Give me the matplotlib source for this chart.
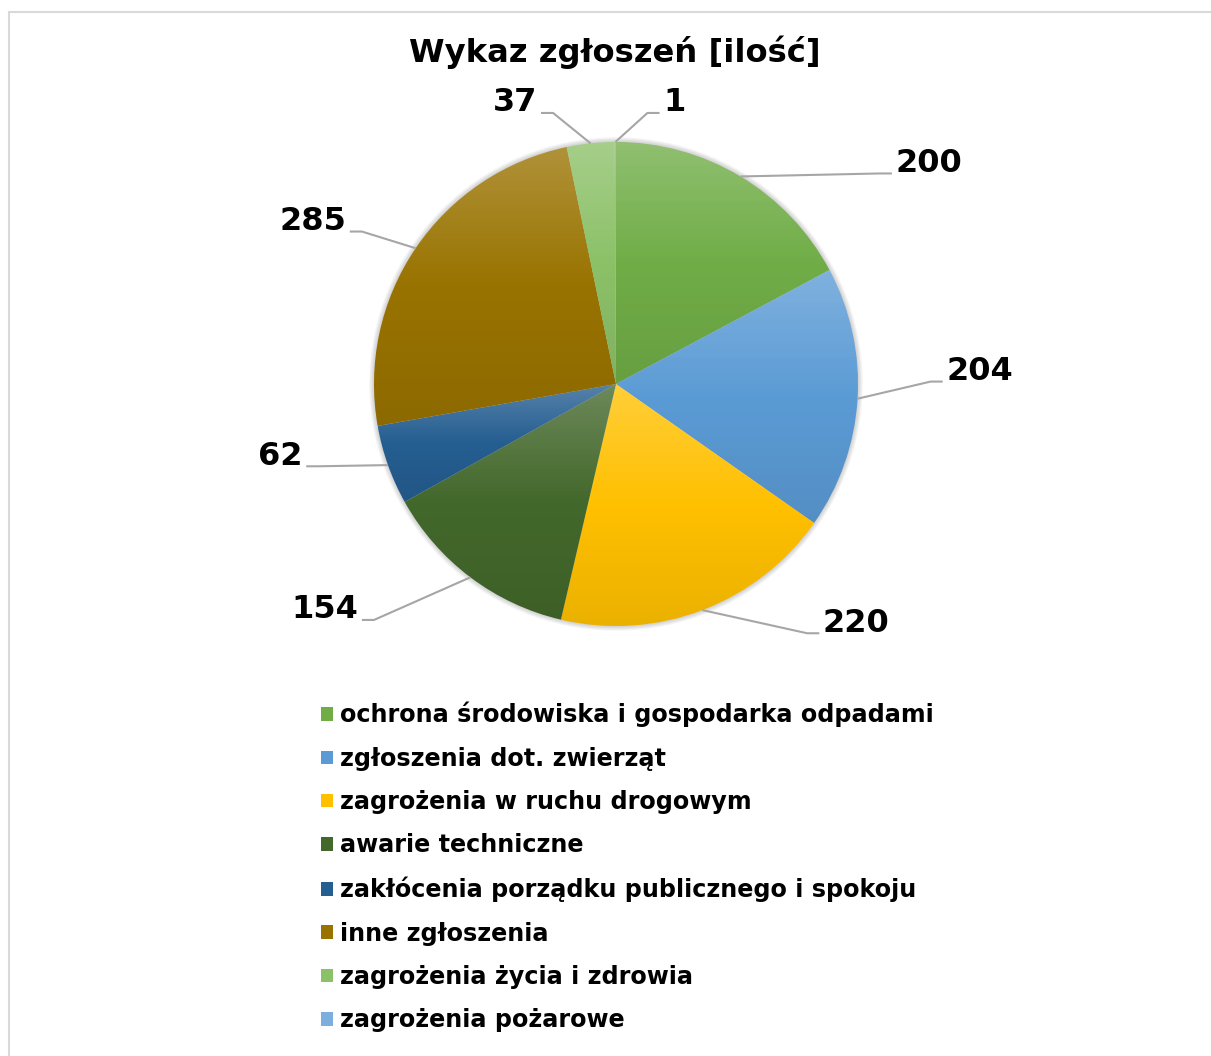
import numpy as np
import matplotlib.pyplot as plt
from matplotlib.colors import to_rgb
from matplotlib.patches import Rectangle, Circle, Patch

# data
categories = ['ochrona środowiska i gospodarka odpadami',
              'zgłoszenia dot. zwierząt',
              'zagrożenia w ruchu drogowym',
              'awarie techniczne',
              'zakłócenia porządku publicznego i spokoju',
              'inne zgłoszenia',
              'zagrożenia życia i zdrowia',
              'zagrożenia pożarowe']
values = [200, 204, 220, 154, 62, 285, 37, 1]
colors = ['#70AD47', '#5B9BD5', '#FFC000', '#43682B',
          '#255E91', '#997300', '#8CC168', '#7CAFDD']
title = 'Wykaz zgłoszeń [ilość]'

# where the leader lines bend (data units, pie radius = 1)
label_elbows = [(1.09, 0.87), (1.30, 0.01), (0.79, -1.03), (-1.00, -0.975),
                (-1.23, -0.34), (-1.05, 0.63), (-0.26, 1.12), (0.13, 1.12)]

W, H = 1211, 1056
cx, cy, R = 616, 384, 242  # pie centre / radius in pixels

plt.rcParams['font.family'] = ['DejaVu Sans']
fig = plt.figure(figsize=(W / 100, H / 100), dpi=100)
ax = fig.add_axes([0, 0, 1, 1])

# chart border (only top/left visible)
fig.patches.append(Rectangle((9 / W, 1 - 1070 / H), 1.2, (1070 - 12) / H,
                             transform=fig.transFigure, fill=False,
                             edgecolor='#D9D9D9', linewidth=1.5))

# soft shadow around the pie
for k in range(6):
    ax.add_patch(Circle((0, 0), 1.0 + 0.004 * k, color='black',
                        alpha=0.035, lw=0, zorder=0))

wedges, _ = ax.pie(values, colors=colors, startangle=90, counterclock=False,
                   radius=1, wedgeprops=dict(linewidth=0))


def blend(c, t):
    c = np.array(to_rgb(c))
    if t >= 0:
        return c + (1 - c) * t
    return c * (1 + t)


# vertical gradient inside every wedge
for w, c in zip(wedges, colors):
    v = w.get_path().vertices
    x0, x1 = v[:, 0].min(), v[:, 0].max()
    y0, y1 = v[:, 1].min(), v[:, 1].max()
    n = 64
    t = np.linspace(0, 1, n)[:, None]
    top, mid, bot = blend(c, 0.22), blend(c, 0.0), blend(c, -0.08)
    grad = np.where(t < 0.5, top + (mid - top) * (t / 0.5),
                    mid + (bot - mid) * ((t - 0.5) / 0.5))
    img = ax.imshow(grad[:, None, :], extent=(x0, x1, y0, y1),
                    aspect='auto', origin='upper', zorder=2)
    img.set_clip_path(w)
    w.set_facecolor('none')

# data labels with leader lines
total = sum(values)
ang = 90.0
for val, (ex, ey) in zip(values, label_elbows):
    span = 360.0 * val / total
    mid = np.deg2rad(ang - span / 2)
    ang -= span
    ax0, ay0 = np.cos(mid), np.sin(mid)
    side = 1 if ex > 0 else -1
    endx = ex + side * 0.05
    ax.plot([ax0, ex, endx], [ay0, ey, ey], color='#A6A6A6', lw=1.5,
            zorder=3, solid_capstyle='butt')
    ax.text(endx + side * 0.015, ey + 0.042, str(val), fontsize=23,
            fontweight='bold', ha='left' if side > 0 else 'right',
            va='center', zorder=4)

ax.set_xlim(-cx / R, (W - cx) / R)
ax.set_ylim((cy - H) / R, cy / R)
ax.set_aspect('auto')
ax.axis('off')

fig.text(615 / W, 1 - 52 / H, title, fontsize=23.2, fontweight='bold',
         ha='center', va='center')

handles = [Patch(facecolor=c, edgecolor='none') for c in colors]
fig.legend(handles, categories, loc='upper left',
           bbox_to_anchor=(309 / W, 1 - 690 / H), frameon=False,
           prop=dict(size=17.2, weight='bold'), handlelength=0.5,
           handleheight=0.5, handletextpad=0.3, labelspacing=0.81,
           borderpad=0)

fig.savefig('out.png', dpi=100)
